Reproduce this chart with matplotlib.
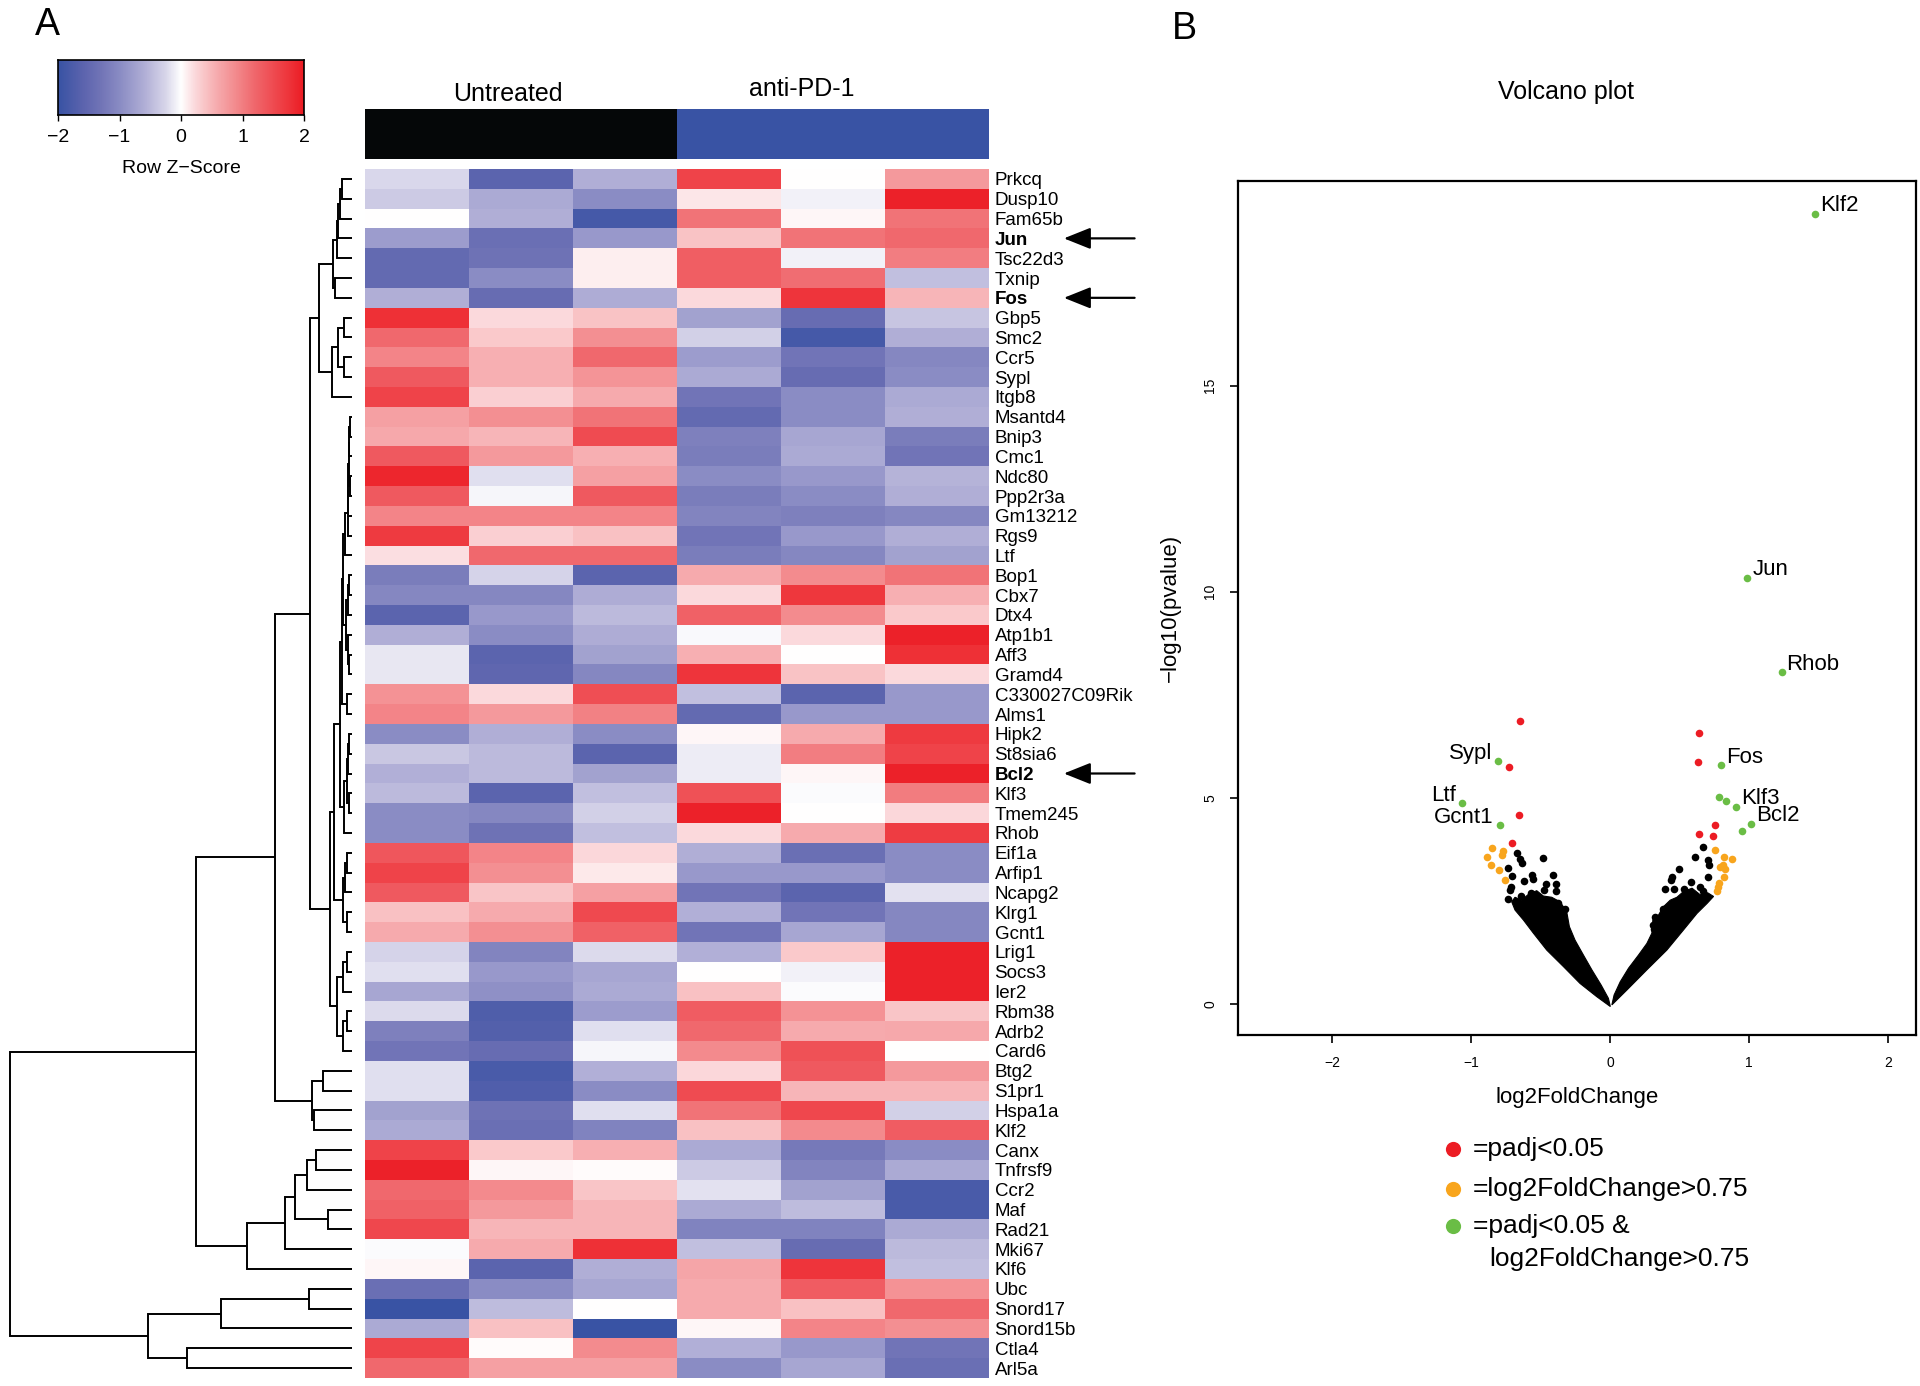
import numpy as np
import matplotlib
matplotlib.use('Agg')
import matplotlib.pyplot as plt
from matplotlib.colors import LinearSegmentedColormap

plt.rcParams['font.family'] = ['Liberation Sans', 'DejaVu Sans']

# ---------------- heatmap data ----------------
genes = ['Prkcq', 'Dusp10', 'Fam65b', 'Jun', 'Tsc22d3', 'Txnip', 'Fos', 'Gbp5', 'Smc2',
         'Ccr5', 'Sypl', 'Itgb8', 'Msantd4', 'Bnip3', 'Cmc1', 'Ndc80', 'Ppp2r3a', 'Gm13212',
         'Rgs9', 'Ltf', 'Bop1', 'Cbx7', 'Dtx4', 'Atp1b1', 'Aff3', 'Gramd4', 'C330027C09Rik',
         'Alms1', 'Hipk2', 'St8sia6', 'Bcl2', 'Klf3', 'Tmem245', 'Rhob', 'Eif1a', 'Arfip1',
         'Ncapg2', 'Klrg1', 'Gcnt1', 'Lrig1', 'Socs3', 'Ier2', 'Rbm38', 'Adrb2', 'Card6',
         'Btg2', 'S1pr1', 'Hspa1a', 'Klf2', 'Canx', 'Tnfrsf9', 'Ccr2', 'Maf', 'Rad21',
         'Mki67', 'Klf6', 'Ubc', 'Snord17', 'Snord15b', 'Ctla4', 'Arl5a']
marked_genes = ['Jun', 'Fos', 'Bcl2']
groups = ['Untreated', 'anti-PD-1']
group_colors = ['#050708', '#3953a4']
samples_per_group = 3

# row z-scores, columns: 3 untreated then 3 anti-PD-1
row_z = np.array([
    [-0.25, -1.6, -0.6, 1.6, 0.0, 0.75],
    [-0.35, -0.65, -1.0, 0.15, -0.08, 1.95],
    [0.0, -0.6, -1.85, 1.1, 0.05, 1.1],
    [-0.8, -1.4, -0.85, 0.4, 1.1, 1.2],
    [-1.5, -1.35, 0.1, 1.3, -0.08, 1.0],
    [-1.5, -1.0, 0.1, 1.3, 1.15, -0.45],
    [-0.6, -1.45, -0.62, 0.22, 1.75, 0.5],
    [1.8, 0.22, 0.4, -0.75, -1.45, -0.4],
    [1.2, 0.35, 0.85, -0.3, -1.85, -0.6],
    [0.95, 0.55, 1.2, -0.8, -1.3, -1.05],
    [1.35, 0.55, 0.8, -0.65, -1.45, -1.0],
    [1.6, 0.3, 0.6, -1.3, -1.0, -0.65],
    [0.7, 0.85, 1.1, -1.5, -1.0, -0.6],
    [0.62, 0.5, 1.5, -1.15, -0.7, -1.2],
    [1.35, 0.75, 0.55, -1.2, -0.65, -1.3],
    [1.9, -0.2, 0.7, -1.0, -0.85, -0.55],
    [1.35, -0.05, 1.35, -1.2, -1.0, -0.6],
    [0.95, 0.95, 0.95, -1.1, -1.15, -1.05],
    [1.7, 0.3, 0.42, -1.3, -0.85, -0.6],
    [0.2, 1.2, 1.2, -1.2, -1.05, -0.75],
    [-1.2, -0.28, -1.6, 0.6, 0.88, 1.1],
    [-1.05, -1.05, -0.62, 0.22, 1.72, 0.55],
    [-1.6, -0.85, -0.5, 1.28, 0.88, 0.35],
    [-0.6, -1.0, -0.62, -0.04, 0.22, 1.95],
    [-0.15, -1.6, -0.75, 0.55, 0.0, 1.8],
    [-0.15, -1.55, -1.05, 1.75, 0.4, 0.22],
    [0.82, 0.22, 1.48, -0.45, -1.6, -0.85],
    [0.95, 0.75, 0.97, -1.5, -0.85, -0.85],
    [-1.0, -0.6, -1.0, 0.05, 0.6, 1.7],
    [-0.38, -0.5, -1.6, -0.12, 1.0, 1.6],
    [-0.58, -0.5, -0.75, -0.12, 0.05, 1.95],
    [-0.5, -1.6, -0.45, 1.45, -0.02, 1.02],
    [-1.0, -1.05, -0.3, 1.95, 0.0, 0.24],
    [-1.0, -1.35, -0.45, 0.22, 0.6, 1.68],
    [1.38, 0.95, 0.24, -0.6, -1.4, -1.0],
    [1.6, 0.85, 0.13, -0.85, -0.85, -1.0],
    [1.35, 0.38, 0.7, -1.3, -1.6, -0.18],
    [0.42, 0.6, 1.52, -0.58, -1.3, -1.05],
    [0.6, 0.85, 1.28, -1.3, -0.7, -1.05],
    [-0.28, -1.1, -0.22, -0.58, 0.35, 1.95],
    [-0.2, -0.85, -0.7, 0.0, -0.08, 1.95],
    [-0.7, -0.95, -0.65, 0.42, -0.02, 1.95],
    [-0.22, -1.75, -0.8, 1.32, 0.82, 0.38],
    [-1.15, -1.7, -0.2, 1.2, 0.6, 0.62],
    [-1.3, -1.45, -0.05, 0.9, 1.45, 0.0],
    [-0.2, -1.8, -0.58, 0.24, 1.35, 0.75],
    [-0.2, -1.72, -1.0, 1.5, 0.5, 0.5],
    [-0.75, -1.35, -0.2, 1.1, 1.55, -0.3],
    [-0.65, -1.4, -1.12, 0.42, 0.9, 1.32],
    [1.6, 0.35, 0.55, -0.65, -1.25, -1.0],
    [1.95, 0.05, 0.02, -0.35, -1.1, -0.65],
    [1.2, 0.9, 0.38, -0.18, -0.75, -1.8],
    [1.28, 0.75, 0.5, -0.65, -0.48, -1.8],
    [1.55, 0.5, 0.5, -1.12, -1.12, -0.65],
    [-0.02, 0.6, 1.8, -0.45, -1.45, -0.5],
    [0.05, -1.6, -0.6, 0.65, 1.75, -0.45],
    [-1.4, -1.0, -0.7, 0.6, 1.32, 0.82],
    [-2.0, -0.48, 0.0, 0.6, 0.42, 1.2],
    [-0.65, 0.42, -2.0, 0.05, 0.95, 0.85],
    [1.58, 0.02, 0.88, -0.58, -0.85, -1.3],
    [1.2, 0.7, 0.7, -1.0, -0.7, -1.4],
])

# row dendrogram: (left, right, merge height); ints are row indices
row_tree = (
    (
        (
            (
                ((((((0, 1, 10.3), 2, 12), 3, 14.3), 4, 15.3), (5, 6, 17.5), 18.7),
                 (((7, 8, 8), (9, 10, 8), 14.3), 11, 20.3), 32.7),
                (((((((((((12, 13, 2), 14, 2.8), (15, 16, 2.2), 3.5), 17, 4), 18, 4.5), 19, 7),
                      (((20, 21, 3), 22, 4), (23, (24, 25, 3), 4.5), 6.5), 8.7),
                     (26, 27, 5), 10.5),
                    ((((28, 29, 3), 30, 4), (31, 32, 3.5), 5.5), 33, 8), 12.5),
                   (((34, 35, 4.7), 36, 7), (37, 38, 5.5), 8.7), 18),
                  ((((39, 40, 5.3), 41, 9.3), ((42, 43, 5.3), 44, 9.3), 15.3)), 22),
                42),
            ((45, 46, 28.7), (47, 48, 38), 39.7), 77),
        (((((49, 50, 36.3), 51, 44.7), (52, 53, 23.7), 57), 54, 67), 55, 104.7), 156),
    ((((56, 57, 42.7), 58, 131), (59, 60, 165.3), 203.7)), 342)

# ---------------- volcano data ----------------
green_x = [1.476, 0.987, 1.232, 0.794, 0.780, 0.835, 0.907, 1.015, 0.948, -0.807, -1.065, -0.795]
green_y = [19.17, 10.34, 8.05, 5.79, 5.01, 4.93, 4.79, 4.37, 4.20, 5.89, 4.87, 4.34]
green_names = ['Klf2', 'Jun', 'Rhob', 'Fos', '', '', 'Klf3', 'Bcl2', '', 'Sypl', 'Ltf', 'Gcnt1']

red_x = [-0.651, -0.729, -0.658, -0.710, 0.638, 0.631, 0.756, 0.636, 0.736]
red_y = [6.86, 5.74, 4.59, 3.90, 6.57, 5.86, 4.34, 4.13, 4.08]

orange_x = [-0.855, -0.890, -0.862, -0.799, -0.778, -0.770, -0.758,
            0.756, 0.815, 0.876, 0.808, 0.792, 0.828, 0.815, 0.780, 0.772, 0.768]
orange_y = [3.79, 3.56, 3.37, 3.25, 3.62, 3.72, 3.01,
            3.74, 3.56, 3.51, 3.37, 3.33, 3.27, 3.08, 2.94, 2.83, 2.73]

# scattered non-significant genes above the dense cloud
black_x = [-0.670, -0.650, -0.634, -0.487, -0.739, -0.706, -0.619, -0.566, -0.559, -0.410,
           -0.718, -0.722, -0.463, -0.391, -0.643, -0.735, -0.571, -0.391, -0.477, -0.326,
           -0.374, -0.530,
           0.664, 0.611, 0.703, 0.707, 0.491, 0.443, 0.438, 0.583, 0.700, 0.395, 0.455,
           0.527, 0.647, 0.664, 0.376, 0.323, 0.306, 0.311, 0.575]
black_y = [3.66, 3.51, 3.43, 3.54, 3.29, 3.11, 2.99, 3.13, 3.03, 3.13,
           2.83, 2.77, 2.91, 2.91, 2.63, 2.55, 2.70, 2.73, 2.77, 2.31,
           2.44, 2.57,
           3.80, 3.56, 3.49, 3.37, 3.27, 3.08, 3.01, 2.96, 3.09, 2.78, 2.78,
           2.78, 2.83, 2.75, 2.30, 2.10, 1.92, 1.81, 2.65]

# outline of the dense cloud of points (left and right wings)
left_wing_x = [0.0, -0.098, -0.218, -0.338, -0.458, -0.554, -0.626, -0.686, -0.710, -0.686,
               -0.638, -0.590, -0.530, -0.482, -0.422, -0.362, -0.314, -0.295, -0.254, -0.194,
               -0.133, -0.066, -0.014]
left_wing_y = [-0.06, 0.18, 0.50, 0.91, 1.31, 1.72, 2.04, 2.28, 2.48, 2.59,
               2.52, 2.66, 2.75, 2.62, 2.59, 2.48, 2.24, 1.88, 1.55, 1.19,
               0.83, 0.46, 0.14]
right_wing_x = [0.011, 0.119, 0.263, 0.407, 0.527, 0.624, 0.696, 0.743, 0.700, 0.647,
                0.588, 0.527, 0.479, 0.431, 0.379, 0.347, 0.306, 0.299, 0.263, 0.203,
                0.131, 0.071, 0.027]
right_wing_y = [-0.02, 0.34, 0.83, 1.31, 1.80, 2.20, 2.44, 2.61, 2.70, 2.65,
                2.81, 2.73, 2.59, 2.52, 2.35, 2.16, 2.04, 1.72, 1.47, 1.19,
                0.87, 0.54, 0.22]

legend_labels = ['=padj<0.05', '=log2FoldChange>0.75', '=padj<0.05 &']
RED, ORANGE, GREEN = '#ec1c24', '#f8a51d', '#6abd45'

# ---------------- figure ----------------
W, H = 1920, 1386
fig = plt.figure(figsize=(W / 100, H / 100), dpi=100)


def px_axes(left, top, right, bottom):
    return fig.add_axes([left / W, 1 - bottom / H, (right - left) / W, (bottom - top) / H])


z_nodes = [-2, -1.6, -1.3, -1.0, -0.6, -0.25, 0, 0.22, 0.4, 0.6, 0.9, 1.2, 1.5, 1.75, 2]
z_cols = ['#3953a4', '#5c64ae', '#7275b7', '#8a8cc4', '#b0aed6', '#d8d6ea', '#ffffff',
          '#fbdadd', '#f9c3c5', '#f6aaad', '#f38a8d', '#f0686d', '#ef4c52', '#ee363c', '#ec1c24']
cmap = LinearSegmentedColormap.from_list('rowz', [((z + 2) / 4, c) for z, c in zip(z_nodes, z_cols)])

n_rows, n_cols = row_z.shape

# color key
ax_key = px_axes(58, 60, 304, 115)
ax_key.imshow(np.linspace(-2, 2, 400)[None, :], cmap=cmap, vmin=-2, vmax=2,
              extent=(-2, 2, 0, 1), aspect='auto')
ax_key.set_yticks([])
ax_key.set_xticks([-2, -1, 0, 1, 2])
ax_key.tick_params(axis='x', length=4, width=1, pad=6, labelsize=14)
ax_key.set_xlabel('Row Z\u2212Score', fontsize=14, labelpad=10)
for s in ax_key.spines.values():
    s.set_linewidth(1.2)

# column side colors
ax_col = px_axes(365, 109, 989, 159)
for gi, g in enumerate(groups):
    ax_col.bar(gi * samples_per_group + samples_per_group / 2, 1, width=samples_per_group,
               color=group_colors[gi], edgecolor='none')
ax_col.set_xlim(0, n_cols)
ax_col.set_ylim(0, 1)
ax_col.axis('off')
ax_col.text(1.5 - 0.13, 1.3, groups[0], ha='center', va='center', fontsize=18)
ax_col.text(4.5 - 0.3, 1.4, groups[1], ha='center', va='center', fontsize=18)

# heatmap
ax_heat = px_axes(365, 169, 989, 1378)
ax_heat.pcolormesh(np.arange(n_cols + 1), np.arange(n_rows + 1), row_z, cmap=cmap,
                   vmin=-2, vmax=2, shading='flat')
ax_heat.set_xlim(0, n_cols)
ax_heat.set_ylim(n_rows, 0)
ax_heat.set_xticks([])
ax_heat.yaxis.tick_right()
ax_heat.set_yticks(np.arange(n_rows) + 0.5)
ax_heat.set_yticklabels(genes, fontsize=13.5)
ax_heat.tick_params(axis='y', length=0, pad=4)
for lab in ax_heat.get_yticklabels():
    if lab.get_text() in marked_genes:
        lab.set_fontweight('bold')
for s in ax_heat.spines.values():
    s.set_visible(False)
for g in marked_genes:
    r = genes.index(g) + 0.5
    ax_heat.annotate('', xy=(6.72, r), xytext=(7.4, r), xycoords='data',
                     arrowprops=dict(arrowstyle='-|>,head_length=0.55,head_width=0.22',
                                     color='black', lw=1.6, mutation_scale=30,
                                     shrinkA=0, shrinkB=0),
                     annotation_clip=False)

# dendrogram
ax_tree = px_axes(8, 169, 352, 1378)


def draw_tree(ax, node):
    if isinstance(node, int):
        return node + 0.5, 0.0
    left, right, h = node
    yl, hl = draw_tree(ax, left)
    yr, hr = draw_tree(ax, right)
    ax.plot([hl, h, h, hr], [yl, yl, yr, yr], color='black', lw=1.4,
            solid_joinstyle='miter', solid_capstyle='butt')
    return (yl + yr) / 2, h


draw_tree(ax_tree, row_tree)
ax_tree.set_xlim(344, 0)
ax_tree.set_ylim(n_rows, 0)
ax_tree.axis('off')

# volcano plot
ax_v = px_axes(1238, 181, 1916, 1035)
ax_v.fill(left_wing_x, left_wing_y, color='black', lw=0.8, zorder=2)
ax_v.fill(right_wing_x, right_wing_y, color='black', lw=0.8, zorder=2)
ax_v.scatter(black_x, black_y, s=30, color='black', lw=0, zorder=2)
ax_v.scatter(orange_x, orange_y, s=30, color=ORANGE, lw=0, zorder=3)
ax_v.scatter(red_x, red_y, s=30, color=RED, lw=0, zorder=3)
ax_v.scatter(green_x, green_y, s=30, color=GREEN, lw=0, zorder=4)
for x, y, name in zip(green_x, green_y, green_names):
    if not name:
        continue
    if x < 0:
        ax_v.annotate(name, (x, y), xytext=(-6, 8), textcoords='offset pixels',
                      ha='right', va='center', fontsize=16)
    else:
        ax_v.annotate(name, (x, y), xytext=(5, 8), textcoords='offset pixels',
                      ha='left', va='center', fontsize=16)
ax_v.set_xlim(-2.68, 2.2)
ax_v.set_ylim(-0.75, 19.96)
ax_v.set_xticks([-2, -1, 0, 1, 2])
ax_v.set_yticks([0, 5, 10, 15])
ax_v.tick_params(direction='out', length=6, width=1.2, pad=9, labelsize=10)
for lab in ax_v.get_yticklabels():
    lab.set_rotation(90)
    lab.set_va('center')
for s in ax_v.spines.values():
    s.set_linewidth(1.6)
ax_v.set_xlabel('log2FoldChange', fontsize=16, labelpad=12)
ax_v.set_ylabel('\u2212log10(pvalue)', fontsize=16, labelpad=16)
ax_v.set_title('Volcano plot', fontsize=18, pad=59, x=0.484)

# legend for the volcano plot
ax_leg = px_axes(1420, 1110, 1920, 1300)
ax_leg.set_xlim(1420, 1920)
ax_leg.set_ylim(1300, 1110)
ax_leg.axis('off')
for yy, col, lab in zip([1149, 1189, 1226], [RED, ORANGE, GREEN], legend_labels):
    ax_leg.scatter([1453], [yy], s=120, color=col, lw=0)
    ax_leg.text(1473, yy, lab, fontsize=19, va='center', ha='left')
ax_leg.text(1489, 1259, 'log2FoldChange>0.75', fontsize=19, va='center', ha='left')

# panel letters
fig.text(35 / W, 1 - 35 / H, 'A', fontsize=27, va='baseline', ha='left')
fig.text(1172 / W, 1 - 39 / H, 'B', fontsize=27, va='baseline', ha='left')

fig.savefig('out.png', dpi=100)
